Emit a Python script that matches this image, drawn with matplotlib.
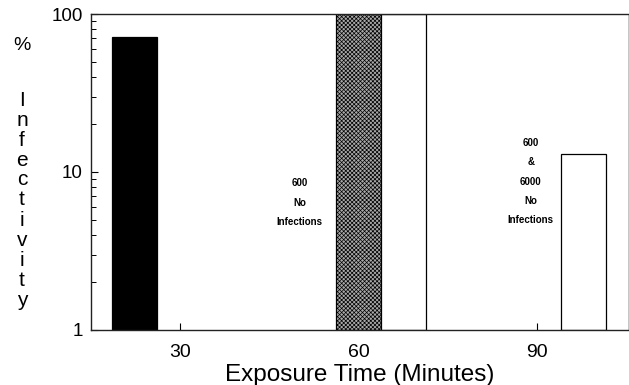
import matplotlib
matplotlib.use("Agg")
import matplotlib.pyplot as plt
from matplotlib.ticker import FixedLocator, NullFormatter, LogLocator

plt.rcParams['font.family'] = ['Liberation Sans', 'DejaVu Sans']
plt.rcParams['hatch.linewidth'] = 0.5

# data
bar_minutes = [22.4, 60.0, 67.5, 97.8]
bar_values = [72, 100, 100, 13]
bar_width = 7.5
x_ticks = [30, 60, 90]
y_ticks = [1, 10, 100]
y_ticklabels = ['1', '10', '100']
notes = ["600\nNo\nInfections", "600\n&\n6000\nNo\nInfections"]
note_x = [50.1, 88.9]
note_y = [6.4, 8.7]
ylabel_letters = list("%Infectivity")

fig = plt.figure(figsize=(6.29, 3.85), dpi=100)
ax = fig.add_axes([0.1447, 0.1429, 0.8533, 0.8207])

faces = ['black', '#a8a8a8', 'white', 'white']
hatches = [None, 'xxxxxxxx', None, None]
for xm, v, fc, h in zip(bar_minutes, bar_values, faces, hatches):
    ax.bar(xm, v - 1, bottom=1, width=bar_width, color=fc, edgecolor='black',
           linewidth=0.9, hatch=h, zorder=2)

ax.set_yscale('log')
ax.set_ylim(1, 100)
ax.set_xlim(15.1, 105.2)

ax.yaxis.set_major_locator(FixedLocator(y_ticks))
ax.set_yticklabels(y_ticklabels, fontsize=13.5)
ax.yaxis.set_minor_locator(LogLocator(base=10, subs=range(2, 10)))
ax.yaxis.set_minor_formatter(NullFormatter())
ax.set_xticks(x_ticks)
ax.set_xticklabels([str(t) for t in x_ticks], fontsize=14)
ax.tick_params(axis='both', which='major', direction='in', length=5, width=0.8, pad=6)
ax.tick_params(axis='y', which='minor', direction='in', length=3.5, width=0.7)
ax.tick_params(axis='x', which='major', pad=10)

for s in ['left', 'bottom', 'top']:
    ax.spines[s].set_linewidth(1.0)
    ax.spines[s].set_color('#222222')
ax.spines['right'].set_linewidth(0.6)
ax.spines['right'].set_color('#bbbbbb')

ax.set_xlabel('Exposure Time (Minutes)', fontsize=17.5, labelpad=2)

for txt, xx, yy in zip(notes, note_x, note_y):
    ax.text(xx, yy, txt, ha='center', va='center', fontsize=7, fontweight='bold',
            linespacing=2.15, zorder=3)

# stacked vertical y label
fig.text(22 / 629, 1 - 45 / 385, ylabel_letters[0], ha='center', va='center', fontsize=14)
start, step = 100, 20.0
for i, ch in enumerate(ylabel_letters[1:]):
    fig.text(22 / 629, 1 - (start + i * step) / 385, ch, ha='center', va='center', fontsize=15)

fig.savefig('out.png', dpi=100)
